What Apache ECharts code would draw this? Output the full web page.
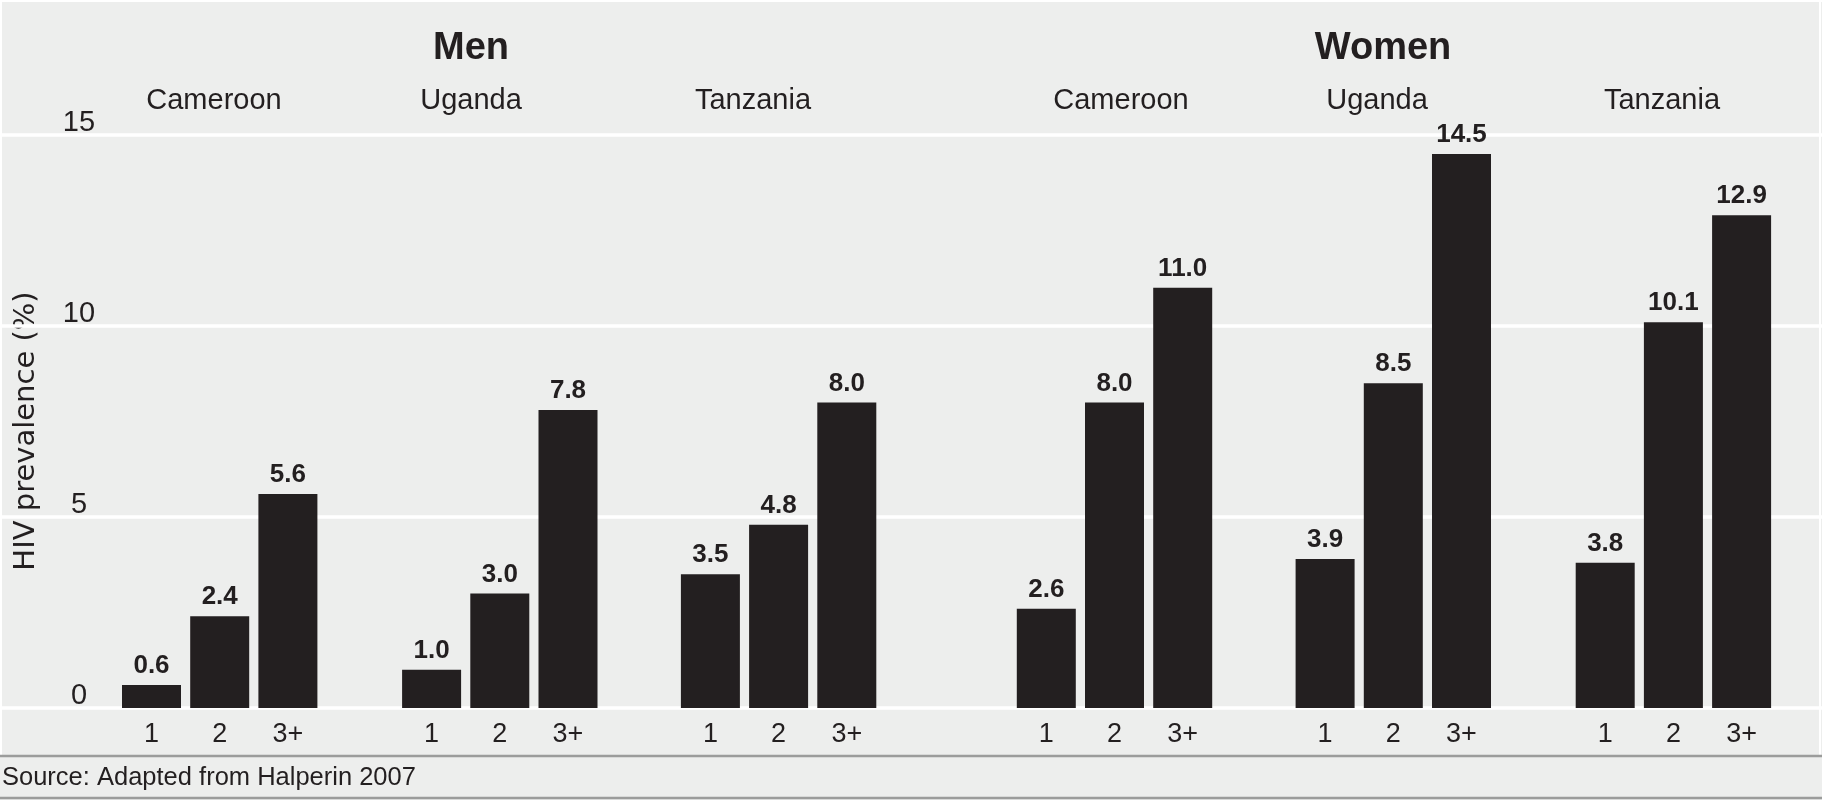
<!DOCTYPE html>
<html>
<head>
<meta charset="utf-8">
<script src="https://cdn.jsdelivr.net/npm/echarts@6/dist/echarts.min.js"></script>
<style>
html,body{margin:0;padding:0;background:#edeeed;}
#chart{width:1822px;height:800px;}
</style>
</head>
<body>
<div id="chart"></div>
<script>
// ---- data ----
const partnerCounts = ['1', '2', '3+'];
const countries = ['Cameroon', 'Uganda', 'Tanzania'];
const genders = ['Men', 'Women'];
const menCameroon = [0.6, 2.4, 5.6];
const menUganda = [1.0, 3.0, 7.8];
const menTanzania = [3.5, 4.8, 8.0];
const womenCameroon = [2.6, 8.0, 11.0];
const womenUganda = [3.9, 8.5, 14.5];
const womenTanzania = [3.8, 10.1, 12.9];
const yTicks = [0, 5, 10, 15];
const yAxisTitle = 'HIV prevalence (%)';
const sourceText = 'Source: Adapted from Halperin 2007';

// ---- layout ----
const panels = [menCameroon, menUganda, menTanzania, womenCameroon, womenUganda, womenTanzania];
const panelLeft = [117.4, 397.5, 676.3, 1012.2, 1291.0, 1571.1];
const panelWidth = 204.6;
const countryLabelX = [214, 471, 753, 1121, 1377, 1662];
const genderLabelX = [471, 1383];
const plotTop = 135, plotBottom = 92;
const ink = '#231f20';
const font = '"Liberation Sans", Arial, sans-serif';

const grids = [{ left: 0, right: 0, top: plotTop, bottom: plotBottom }];
const xAxes = [{ gridIndex: 0, type: 'value', show: false }];
const yAxes = [{
  gridIndex: 0, type: 'value', min: yTicks[0], max: yTicks[yTicks.length - 1], interval: 5,
  axisLine: { show: false }, axisTick: { show: false },
  splitLine: { show: true, lineStyle: { color: '#ffffff', width: 3.5 } },
  axisLabel: {
    inside: true, margin: 79, align: 'center', verticalAlign: 'bottom',
    fontFamily: font, fontSize: 29, color: ink, lineHeight: 24
  }
}];
const series = [];
panels.forEach((vals, i) => {
  const g = i + 1;
  grids.push({ left: panelLeft[i], width: panelWidth, top: plotTop, bottom: plotBottom });
  xAxes.push({
    gridIndex: g, type: 'category', data: partnerCounts,
    axisLine: { show: false }, axisTick: { show: false },
    axisLabel: { fontFamily: font, fontSize: 27, color: ink, margin: 13 }
  });
  yAxes.push({ gridIndex: g, type: 'value', min: 0, max: 15, show: false, splitLine: { show: false } });
  series.push({
    type: 'bar', xAxisIndex: g, yAxisIndex: g, data: vals, barWidth: 59,
    itemStyle: { color: ink },
    label: {
      show: true, position: 'top', distance: 6,
      formatter: p => p.value.toFixed(1),
      fontFamily: font, fontWeight: 'bold', fontSize: 26, color: ink
    },
    silent: true, animation: false
  });
});

const graphics = [];
// frame lines
graphics.push({ type: 'line', shape: { x1: 0, y1: 1, x2: 1822, y2: 1 }, style: { stroke: '#ffffff', lineWidth: 2 } });
graphics.push({ type: 'line', shape: { x1: 1, y1: 0, x2: 1, y2: 756 }, style: { stroke: '#ffffff', lineWidth: 2 } });
graphics.push({ type: 'line', shape: { x1: 1820, y1: 0, x2: 1820, y2: 756 }, style: { stroke: '#ffffff', lineWidth: 2 } });
graphics.push({ type: 'line', shape: { x1: 0, y1: 756, x2: 1822, y2: 756 }, style: { stroke: '#9b9c9b', lineWidth: 2.5 } });
graphics.push({ type: 'line', shape: { x1: 0, y1: 798, x2: 1822, y2: 798 }, style: { stroke: '#9b9c9b', lineWidth: 2.5 } });
// gender headings
genders.forEach((t, i) => graphics.push({
  type: 'text', x: genderLabelX[i], y: 49,
  style: { text: t, font: 'bold 38px ' + font, fill: ink, textAlign: 'center', textVerticalAlign: 'middle' }
}));
// country headings
[0, 1].forEach(gi => countries.forEach((c, ci) => graphics.push({
  type: 'text', x: countryLabelX[gi * 3 + ci], y: 101,
  style: { text: c, font: '29px ' + font, fill: ink, textAlign: 'center', textVerticalAlign: 'middle' }
})));
// y axis title
graphics.push({
  type: 'text', x: 26, y: 431, rotation: Math.PI / 2,
  style: { text: yAxisTitle, font: '29px "DejaVu Sans", ' + font, fill: ink, textAlign: 'center', textVerticalAlign: 'middle' }
});
// source
graphics.push({
  type: 'text', x: 2, y: 778,
  style: { text: sourceText, font: '25.5px ' + font, fill: ink, textAlign: 'left', textVerticalAlign: 'middle' }
});

const chart = echarts.init(document.getElementById('chart'), null, { renderer: 'canvas' });
chart.setOption({
  backgroundColor: '#edeeed',
  animation: false,
  grid: grids, xAxis: xAxes, yAxis: yAxes, series: series,
  graphic: graphics
});
</script>
</body>
</html>
